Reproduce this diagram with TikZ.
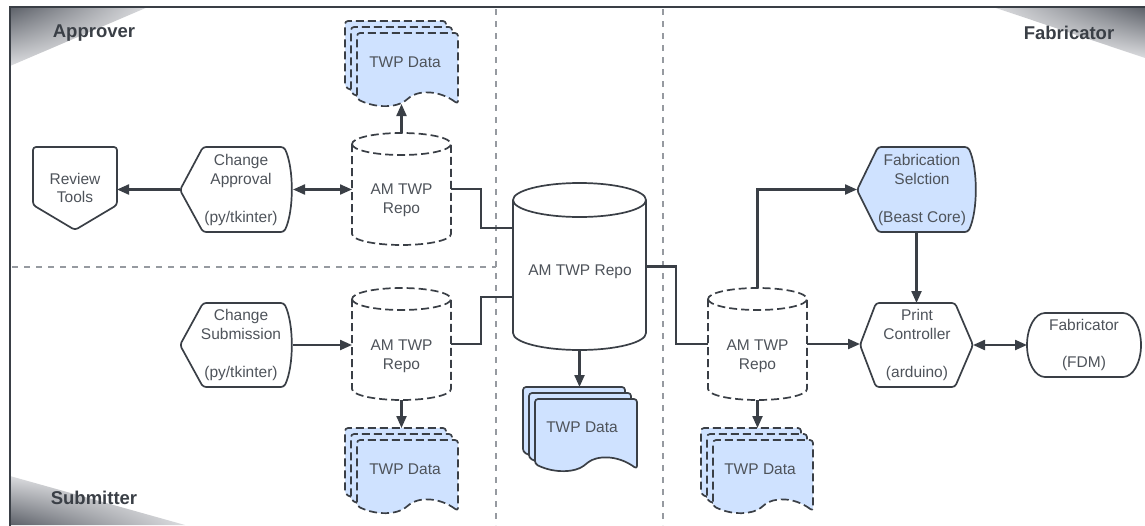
\documentclass[tikz,border=0pt]{standalone}
\usepackage{fontspec}
\setmainfont{Liberation Sans}
\usetikzlibrary{arrows.meta,calc,shadings}
\definecolor{ink}{RGB}{58,63,70}
\definecolor{txtc}{RGB}{78,83,90}
\definecolor{docblue}{RGB}{207,226,255}
\definecolor{lanec}{RGB}{150,154,160}
\definecolor{cornerc}{RGB}{92,96,104}
\definecolor{cornerl}{RGB}{218,219,222}
\newcommand\cylshape[4]{%
  \draw[#1] ([yshift=-#4pt]#2.north west) -- ([yshift=#4pt]#2.south west)
    arc[start angle=180,end angle=360,x radius=#3pt,y radius=#4pt]
    -- ([yshift=-#4pt]#2.north east)
    arc[start angle=0,end angle=180,x radius=#3pt,y radius=#4pt] -- cycle;
  \draw[#1] ([yshift=-#4pt]#2.north west)
    arc[start angle=180,end angle=360,x radius=#3pt,y radius=#4pt];}
\newcommand\docpage[5]{%
  \draw[#1] (#2+#4,#5+5) .. controls (#2+0.8*#4,#5-10) and (#2+0.6*#4,#5-8) .. (#2+0.5*#4,#5)
    .. controls (#2+0.4*#4,#5+8) and (#2+0.2*#4,#5+10) .. (#2,#5)
    -- (#2,#3) -- (#2+#4,#3) -- cycle;}
\newcommand\docstack[5]{%
  \docpage{#1}{#2-12}{#3-12}{#4}{#5-12}
  \docpage{#1}{#2-6}{#3-6}{#4}{#5-6}
  \docpage{#1}{#2}{#3}{#4}{#5}}
\begin{document}
\begin{tikzpicture}[x=1pt,y=-1pt,
  box/.style={rectangle,inner sep=0pt,outer sep=0pt},
  shp/.style={draw=ink,line width=1.7pt,line join=round},
  dshp/.style={shp,dash pattern=on 8pt off 4pt},
  docsolid/.style={shp,fill=docblue,rounded corners=3pt},
  docdash/.style={dshp,fill=docblue,rounded corners=3pt},
  conn/.style={draw=ink,line width=2.2pt},
  arr/.style={conn,-{Triangle[length=12pt,width=10pt]}},
  darr/.style={conn,{Triangle[length=12pt,width=10pt]}-{Triangle[length=12pt,width=10pt]}},
  lbl/.style={text=txtc,font=\fontsize{15.5}{18.7}\selectfont,align=center,inner sep=0pt},
  lanelbl/.style={text=ink,font=\fontsize{18.5}{21}\selectfont\bfseries,inner sep=0pt},
  lanesep/.style={draw=lanec,line width=1.8pt,dash pattern=on 6pt off 6pt}
]
\useasboundingbox (0,0) rectangle (1145,525);
\clip (0,0) rectangle (1145,525);

% corner shadings
\begin{scope}
  \clip (10,7) -- (148,7) -- (10,66) -- cycle;
  \shade[upper left=cornerc,upper right=cornerl,lower left=cornerl,lower right=white] (10,7) rectangle (148,66);
\end{scope}
\begin{scope}
  \clip (10,476) -- (10,525) -- (185,525) -- cycle;
  \shade[upper left=cornerl,upper right=white,lower left=cornerc,lower right=cornerl] (10,476) rectangle (185,525);
\end{scope}
\begin{scope}
  \clip (993,7) -- (1145,7) -- (1145,58) -- cycle;
  \shade[upper left=cornerl,upper right=cornerc,lower left=white,lower right=cornerl] (993,7) rectangle (1145,58);
\end{scope}

% frame
\draw[ink,line width=2.2pt] (10,540) -- (10,7) -- (1160,7);

% lane separators
\draw[lanesep] (496,9) -- (496,525);
\draw[lanesep] (663,9) -- (663,525);
\draw[lanesep] (12,267) -- (496,267);

% lane labels
\node[lanelbl] (lApp) at (94,33) {Approver};
\node[lanelbl] (lFab) at (1069,33) {Fabricator};
\node[lanelbl] (lSub) at (94,498) {Submitter};

% node boxes
\node[box,minimum width=84pt,minimum height=83pt] (rt) at (75,188.5) {};
\node[box,minimum width=113pt,minimum height=85pt] (ca) at (236.5,189.5) {};
\node[box,minimum width=113pt,minimum height=85pt] (cs) at (236.5,345) {};
\node[box,minimum width=99pt,minimum height=112pt] (rA) at (401.5,189) {};
\node[box,minimum width=99pt,minimum height=112pt] (rB) at (401.5,344) {};
\node[box,minimum width=99pt,minimum height=112pt] (rR) at (757.5,344) {};
\node[box,minimum width=133pt,minimum height=167pt] (rC) at (579.5,266.5) {};
\node[box,minimum width=113pt,minimum height=86pt] (dA) at (401.5,64) {};
\node[box,minimum width=113pt,minimum height=86pt] (dB) at (401.5,471) {};
\node[box,minimum width=114pt,minimum height=86pt] (dC) at (580,430) {};
\node[box,minimum width=112pt,minimum height=86pt] (dR) at (757,471) {};
\node[box,minimum width=121pt,minimum height=85pt] (fs) at (917.5,189.5) {};
\node[box,minimum width=113pt,minimum height=84pt] (pc) at (916.5,345) {};
\node[box,minimum width=114pt,minimum height=64pt] (fab) at (1084,345) {};
\coordinate (dA-b) at (401.5,104);
\coordinate (rC-a) at (513,228);
\coordinate (rC-b) at (513,297);

% shapes
\draw[shp,rounded corners=3pt] (33,147) -- (33,205) -- (75,230) -- (117,205) -- (117,147) -- cycle;
\draw[shp,rounded corners=3pt] (180,190) -- (203,147) -- (284,147) .. controls (294,168) and (294,211) .. (284,232) -- (203,232) -- cycle;
\draw[shp,rounded corners=3pt] (180,345) -- (203,303) -- (284,303) .. controls (294,324) and (294,366) .. (284,387) -- (203,387) -- cycle;
\draw[shp,fill=docblue,rounded corners=3pt] (857,190) -- (878,147) -- (968,147) .. controls (978,168) and (978,211) .. (968,232) -- (878,232) -- cycle;
\draw[shp,rounded corners=3pt] (860,345) -- (876,303) -- (955,303) -- (973,345) -- (955,387) -- (876,387) -- cycle;
\draw[shp] (1045,313) -- (1123,313) arc[start angle=90,end angle=-90,x radius=18pt,y radius=32pt]
  -- (1045,377) arc[start angle=270,end angle=90,x radius=18pt,y radius=32pt] -- cycle;

\cylshape{dshp}{rA}{49.5}{11}
\cylshape{dshp}{rB}{49.5}{11}
\cylshape{dshp}{rR}{49.5}{11}
\cylshape{shp,fill=white}{rC}{66.5}{17}

\docstack{docdash}{357}{33}{101}{99}
\docstack{docdash}{357}{440}{101}{506}
\docstack{docdash}{713}{440}{100}{506}
\docstack{docsolid}{535}{399}{102}{464}

% connectors
\draw[arr] (ca.west) -- (ca.west -| rt.east);
\draw[darr] (ca.east) -- (ca.east -| rA.west);
\draw[arr] (rA.north) -- (dA-b);
\draw[conn] (rA.east) -- ++(30,0) |- (rC-a);
\draw[conn] (rB.east) -- ++(30,0) |- (rC-b);
\draw[conn] (rC.east) -- ++(30,0) |- (rR.west);
\draw[arr] (rC.south) -- (rC.south |- dC.north);
\draw[arr] (cs.east) -- (cs.east -| rB.west);
\draw[arr] (rB.south) -- (rB.south |- dB.north);
\draw[arr] (rR.north) |- (fs.west);
\draw[arr] (pc.north |- fs.south) -- (pc.north);
\draw[arr] (rR.east) -- (rR.east -| pc.west);
\draw[darr] (pc.east) -- (pc.east -| fab.west);
\draw[arr] (rR.south) -- (rR.south |- dR.north);

% texts
\node[lbl] (rt-t) at (75,188) {Review\\Tools};
\node[lbl] (ca-t) at (241,190) {Change\\Approval\\[19pt](py/tkinter)};
\node[lbl] (cs-t) at (241,345) {Change\\Submission\\[19pt](py/tkinter)};
\node[lbl] (rA-t) at (401.5,200) {AM TWP\\Repo};
\node[lbl] (rB-t) at (401.5,356) {AM TWP\\Repo};
\node[lbl] (rR-t) at (757.5,356) {AM TWP\\Repo};
\node[lbl] (rC-t) at (580,272) {AM TWP Repo};
\node[lbl] (dA-t) at (405,62) {TWP Data};
\node[lbl] (dB-t) at (405,469) {TWP Data};
\node[lbl] (dC-t) at (582,427) {TWP Data};
\node[lbl] (dR-t) at (760,469) {TWP Data};
\node[lbl] (fs-t) at (922,190) {Fabrication\\Selction\\[19pt](Beast Core)};
\node[lbl] (pc-t) at (917,345) {Print\\Controller\\[19pt](arduino)};
\node[lbl] (fab-t) at (1084,345) {Fabricator\\[19pt](FDM)};
\end{tikzpicture}
\end{document}
